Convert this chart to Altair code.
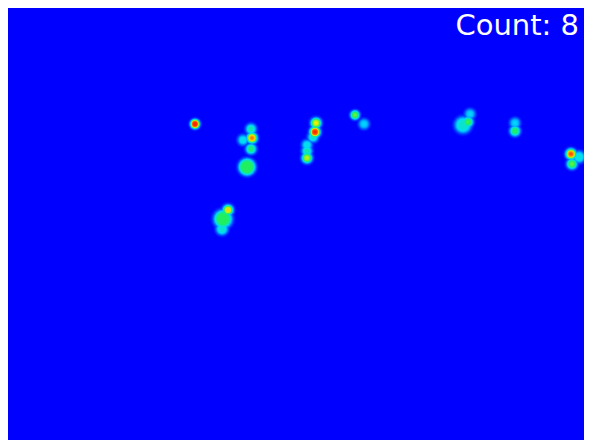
import math
import altair as alt
import pandas as pd

# Hot spots (pixel position, peak intensity 0-1, flat core and spread in px)
spot_x = [195, 243, 252, 251, 251, 247, 316, 315, 313, 307, 307, 307, 355, 364,
          463, 468, 470, 515, 515, 571, 572, 579, 223, 228, 222]
spot_y = [124, 140, 138, 129, 149, 167, 123, 132, 137, 145, 151, 158, 115, 124,
          125, 122, 114, 131, 123, 154, 164, 157, 219, 210, 229]
spot_peak = [0.88, 0.36, 0.76, 0.42, 0.48, 0.5, 0.66, 0.86, 0.4, 0.36, 0.42, 0.62, 0.55, 0.32,
             0.38, 0.52, 0.32, 0.5, 0.32, 0.8, 0.55, 0.36, 0.5, 0.68, 0.38]
spot_core = [2, 2, 2, 2, 2, 6, 2, 2, 2, 2, 2, 2, 2, 2,
             5, 2, 2, 2, 2, 2, 2, 3, 6, 2, 3]
spot_sigma = [2.5, 3, 3, 3, 3, 3, 3, 3, 3, 3, 3, 3, 2.5, 3,
              3.5, 3, 3, 3, 3, 3, 3, 3, 3.5, 3, 3]

count_label = "Count: 8"

# concentric rings (drawing detail) give each spot a soft, blurred look
rows = []
levels = 14
for x, y, p, c, s in zip(spot_x, spot_y, spot_peak, spot_core, spot_sigma):
    for k in range(levels):
        v = 0.03 + (p - 0.03) * k / (levels - 1)
        d = c + s * math.sqrt(max(0.0, 2 * math.log(p / v)))
        rows.append({"x": x, "y": y, "v": v, "size": math.pi * d * d})
df = pd.DataFrame(rows).sort_values("v", kind="stable")

xs = alt.Scale(domain=[8, 584], nice=False, zero=False)
ys = alt.Scale(domain=[8, 440], nice=False, zero=False, reverse=True)

color_scale = alt.Scale(
    domain=[0, 0.33, 0.5, 0.66, 0.83, 1],
    range=["#0000ff", "#00dcff", "#20f060", "#f0f000", "#ff3000", "#e00000"],
    interpolate="rgb",
)

blobs = alt.Chart(df).mark_circle(opacity=1, strokeWidth=0).encode(
    x=alt.X("x:Q", scale=xs, axis=None),
    y=alt.Y("y:Q", scale=ys, axis=None),
    size=alt.Size("size:Q", scale=None, legend=None),
    color=alt.Color("v:Q", scale=color_scale, legend=None),
    order=alt.Order("v:Q"),
)

label = alt.Chart(pd.DataFrame({"x": [579], "y": [35], "t": [count_label]})).mark_text(
    align="right", baseline="alphabetic", fontSize=29, color="white", font="DejaVu Sans"
).encode(
    x=alt.X("x:Q", scale=xs, axis=None),
    y=alt.Y("y:Q", scale=ys, axis=None),
    text="t:N",
)

chart = alt.layer(blobs, label).properties(
    width=576, height=432, background="#0000ff", padding=0,
    autosize=alt.AutoSizeParams(type="none"),
).configure_view(stroke=None, fill="#0000ff")

chart.save("out.html", embed_options={"renderer": "svg", "actions": False})
